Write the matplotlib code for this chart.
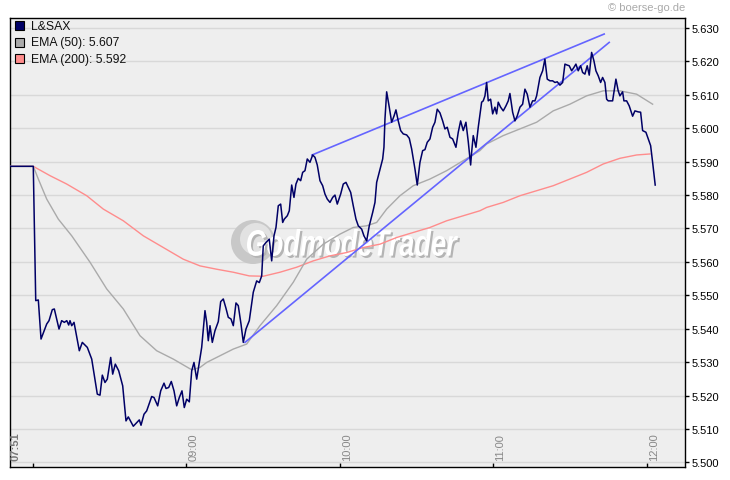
import matplotlib
matplotlib.use('Agg')
import matplotlib.pyplot as plt
from matplotlib.patches import Rectangle, Circle, PathPatch
from matplotlib.textpath import TextPath
from matplotlib.font_manager import FontProperties
from matplotlib.transforms import Affine2D, IdentityTransform

# minutes on the x axis: 0 = first tick ("07:51"), 60 = 09:00, ...
tick_pos = [0, 60, 120, 180, 240]
tick_lbl = ['07:51', '09:00', '10:00', '11:00', '12:00']
y_ticks = [5.500, 5.510, 5.520, 5.530, 5.540, 5.550, 5.560,
           5.570, 5.580, 5.590, 5.600, 5.610, 5.620, 5.630]

price_t = [-9.0, 0.1, 1.06, 2.07, 3.13, 5.35, 6.25, 7.54, 8.33, 10.16,
           11.2, 12.24, 13.2, 13.95, 14.46, 15.13, 16.03, 18.1, 19.27, 21.23,
           22.95, 25.13, 26.19, 27.09, 28.14, 29.04, 30.37, 31.15, 32.17, 33.5,
           35.06, 36.35, 37.25, 38.31, 39.21, 40.54, 41.55, 42.22, 43.39, 44.44,
           46.4, 47.3, 48.74, 49.92, 51.21, 51.99, 53.04, 54.06, 55.12, 56.17,
           57.19, 58.24, 59.14, 60.08, 61.1, 62.04, 62.93, 63.99, 65.0, 65.94,
           67.23, 67.9, 68.52, 69.19, 70.09, 71.14, 72.43, 73.37, 74.39, 75.44,
           76.34, 77.4, 78.3, 79.35, 80.25, 81.31, 82.21, 83.26, 84.55, 86.11,
           87.44, 88.46, 89.4, 90.02, 91.08, 92.37, 93.31, 94.21, 94.99, 95.89,
           96.82, 97.61, 98.23, 99.41, 100.19, 101.13, 102.02, 102.8, 103.7, 104.64,
           105.42, 106.32, 107.22, 108.28, 109.33, 110.23, 111.13, 112.19, 113.24, 114.14,
           115.04, 116.1, 117.15, 118.05, 118.95, 120.28, 121.3, 122.35, 123.25, 124.19,
           125.2, 126.26, 127.16, 128.49, 129.38, 130.44, 131.46, 132.79, 133.69, 134.35,
           135.37, 136.7, 137.2, 137.6, 138.26, 139.28, 140.21, 141.11, 141.89, 142.79,
           143.73, 144.75, 146.08, 147.1, 148.03, 149.32, 150.22, 151.28, 152.33, 153.23,
           154.13, 155.19, 156.24, 157.14, 158.04, 159.1, 160.15, 161.05, 161.95, 163.01,
           164.06, 165.35, 166.25, 167.18, 168.2, 169.25, 170.16, 171.09, 171.48, 172.11,
           173.17, 174.07, 175.39, 176.02, 176.69, 177.35, 177.98, 178.9, 179.7, 180.59,
           181.25, 181.88, 182.82, 183.84, 184.9, 185.8, 186.45, 187.51, 188.41, 189.31,
           190.37, 191.42, 192.32, 193.22, 194.28, 195.33, 196.23, 196.89, 198.18, 199.24,
           200.13, 201.04, 202.09, 203.15, 204.05, 204.95, 206.0, 207.06, 207.96, 208.86,
           209.64, 210.58, 211.47, 212.25, 213.15, 214.09, 214.87, 215.77, 216.67, 217.46,
           218.39, 219.29, 220.07, 220.97, 221.91, 222.69, 223.59, 224.26, 224.88, 225.82,
           226.6, 227.89, 228.79, 229.45, 230.51, 231.02, 232.07, 233.09, 234.42, 235.32,
           236.61, 237.55, 238.33, 239.62, 240.52, 241.46, 242.24, 243.25]
price_v = [5.5886, 5.5886, 5.5484, 5.5486, 5.5369, 5.5414, 5.5424, 5.5457, 5.5459, 5.5399,
           5.5424, 5.5419, 5.5424, 5.5411, 5.5424, 5.5409, 5.5419, 5.5334, 5.5359, 5.5344,
           5.5309, 5.5204, 5.5201, 5.5261, 5.5239, 5.5249, 5.5314, 5.5264, 5.5294, 5.5274,
           5.5229, 5.5124, 5.5136, 5.5121, 5.5108, 5.5119, 5.5127, 5.5111, 5.5144, 5.5154,
           5.5197, 5.5194, 5.5169, 5.5214, 5.5237, 5.5221, 5.5224, 5.5242, 5.5214, 5.5169,
           5.5194, 5.5214, 5.5164, 5.5189, 5.5181, 5.5274, 5.5299, 5.5249, 5.5299, 5.5344,
           5.5454, 5.5419, 5.5364, 5.5409, 5.5359, 5.5394, 5.5421, 5.5481, 5.5489, 5.5461,
           5.5434, 5.5429, 5.5409, 5.5477, 5.5469, 5.5414, 5.5359, 5.5399, 5.5424, 5.5509,
           5.5543, 5.5538, 5.5558, 5.5648, 5.5658, 5.5668, 5.5603, 5.5678, 5.5703, 5.5768,
           5.5773, 5.5718, 5.5728, 5.5738, 5.5753, 5.5830, 5.5793, 5.5833, 5.5850, 5.5843,
           5.5868, 5.5873, 5.5908, 5.5898, 5.5920, 5.5913, 5.5890, 5.5843, 5.5828, 5.5803,
           5.5788, 5.5778, 5.5793, 5.5800, 5.5773, 5.5803, 5.5833, 5.5838, 5.5823, 5.5808,
           5.5768, 5.5728, 5.5708, 5.5698, 5.5678, 5.5663, 5.5708, 5.5748, 5.5778, 5.5838,
           5.5868, 5.5908, 5.5943, 5.6028, 5.6109, 5.6063, 5.6018, 5.6036, 5.6055, 5.6022,
           5.5993, 5.5983, 5.5980, 5.5970, 5.5938, 5.5878, 5.5830, 5.5898, 5.5933, 5.5936,
           5.5958, 5.5968, 5.6003, 5.6018, 5.6057, 5.6046, 5.6022, 5.5998, 5.6003, 5.5973,
           5.5968, 5.5943, 5.5988, 5.6022, 5.5993, 5.6018, 5.5960, 5.5890, 5.5928, 5.5978,
           5.5943, 5.6003, 5.6078, 5.6082, 5.6097, 5.6137, 5.6082, 5.6087, 5.6043, 5.6063,
           5.6043, 5.6078, 5.6063, 5.6052, 5.6067, 5.6082, 5.6104, 5.6048, 5.6022, 5.6037,
           5.6063, 5.6072, 5.6117, 5.6102, 5.6063, 5.6082, 5.6082, 5.6097, 5.6152, 5.6172,
           5.6207, 5.6147, 5.6142, 5.6142, 5.6137, 5.6139, 5.6129, 5.6137, 5.6192, 5.6189,
           5.6187, 5.6172, 5.6182, 5.6192, 5.6172, 5.6187, 5.6167, 5.6162, 5.6187, 5.6159,
           5.6227, 5.6202, 5.6172, 5.6157, 5.6137, 5.6152, 5.6137, 5.6087, 5.6082, 5.6082,
           5.6082, 5.6147, 5.6112, 5.6097, 5.6109, 5.6082, 5.6082, 5.6067, 5.6036, 5.6052,
           5.6049, 5.6048, 5.5993, 5.5988, 5.5968, 5.5948, 5.5898, 5.5830]

ema50_t = [-9.0, 0.1, 2.07, 5.35, 9.89, 15.13, 22.28, 28.81, 35.3, 41.82,
           48.35, 54.84, 62.04, 65.28, 67.9, 73.1, 78.3, 83.53, 88.73, 95.26,
           101.75, 106.99, 113.48, 120.0, 125.2, 130.44, 134.35, 138.26, 143.46, 148.66,
           155.19, 161.71, 168.2, 174.72, 177.35, 183.84, 190.37, 196.89, 203.38, 209.91,
           216.44, 222.93, 229.45, 235.98, 242.24]
ema50_v = [5.5886, 5.5886, 5.5848, 5.5788, 5.5728, 5.5678, 5.5599, 5.5519, 5.5459, 5.5379,
           5.5334, 5.5309, 5.5277, 5.5284, 5.5299, 5.5319, 5.5339, 5.5354, 5.5409, 5.5469,
           5.5539, 5.5608, 5.5653, 5.5683, 5.5703, 5.5708, 5.5718, 5.5758, 5.5798, 5.5828,
           5.5848, 5.5873, 5.5903, 5.5933, 5.5953, 5.5978, 5.5998, 5.6018, 5.6052, 5.6072,
           5.6097, 5.6112, 5.6112, 5.6102, 5.6072]

ema200_t = [-9.0, 0.1, 6.65, 13.17, 20.99, 27.48, 35.3, 43.12, 50.93, 58.75,
            65.28, 71.81, 78.3, 84.55, 90.02, 96.55, 103.08, 109.57, 116.1, 122.62,
            129.11, 135.64, 142.17, 148.66, 155.19, 161.71, 168.2, 174.72, 177.35, 183.84,
            190.37, 196.89, 203.38, 209.91, 216.44, 222.93, 229.45, 235.98, 241.19]
ema200_v = [5.5886, 5.5886, 5.5858, 5.5833, 5.5798, 5.5758, 5.5723, 5.5678, 5.5643, 5.5608,
            5.5588, 5.5578, 5.5569, 5.5558, 5.5557, 5.5569, 5.5584, 5.5603, 5.5618, 5.5628,
            5.5643, 5.5653, 5.5673, 5.5688, 5.5703, 5.5723, 5.5738, 5.5753, 5.5763, 5.5778,
            5.5798, 5.5813, 5.5828, 5.5848, 5.5868, 5.5893, 5.5910, 5.5920, 5.5923]

# hand drawn trend channel
upper_t = [109.1, 223.3]
upper_v = [5.5920, 5.6282]
lower_t = [82.87, 225.27]
lower_v = [5.5359, 5.6257]

legend_names = ['L&SAX', 'EMA (50): 5.607', 'EMA (200): 5.592']
legend_cols = ['#000066', '#AAAAAA', '#FF8C8C']

W, H = 730, 481
fig = plt.figure(figsize=(W / 100, H / 100), dpi=100)
ax = fig.add_axes([10 / W, 13 / H, 675 / W, 449 / H])
ax.set_facecolor('#EEEEEE')

# watermark (behind the data)
ax.add_patch(Circle((253, H - 243), 22, transform=IdentityTransform(),
                    facecolor='#C8C8C8', edgecolor='none', zorder=1))
ax.add_patch(Circle((256, H - 240), 16, transform=IdentityTransform(),
                    facecolor='#E2E2E2', edgecolor='none', zorder=1))
fp = FontProperties(family='Liberation Sans', weight='bold', style='italic')
tp = TextPath((0, 0), 'GodmodeTrader', size=100, prop=fp)
bb = tp.get_extents()
sx, sy = 211 / bb.width, 27 / bb.height
for dx, dy, fc, z in [(2, -2, '#B4B4B4', 1.2), (0, 0, 'white', 1.3)]:
    tr = Affine2D().translate(-bb.x0, -bb.y0).scale(sx, sy).translate(247 + dx, H - 257 + dy)
    ax.add_patch(PathPatch(tp, transform=tr, facecolor=fc, edgecolor='none', zorder=z))

ax.plot(ema200_t, ema200_v, color='#FF8C8C', lw=1.0, zorder=3)
ax.plot(ema50_t, ema50_v, color='#AAAAAA', lw=1.0, zorder=3)
ax.plot(upper_t, upper_v, color='#6464FF', lw=1.2, zorder=4)
ax.plot(lower_t, lower_v, color='#6464FF', lw=1.2, zorder=4)
ax.plot(price_t, price_v, color='#000066', lw=1.1, zorder=5)

ax.set_xlim(-9.0, 254.9)
ax.set_ylim(5.4986, 5.6330)

ax.set_yticks(y_ticks)
ax.set_yticklabels(['%.3f' % v for v in y_ticks], fontfamily='Liberation Sans', fontsize=8)
ax.yaxis.tick_right()
ax.tick_params(axis='y', direction='out', length=3, width=1, pad=2, colors='black')
ax.grid(axis='y', color='#D8D8D8', lw=1)
ax.set_axisbelow(True)

ax.set_xticks(tick_pos)
ax.set_xticklabels([])
ax.tick_params(axis='x', direction='in', length=3, width=1, top=False)
for s in ax.spines.values():
    s.set_color('black')
    s.set_linewidth(1)

# x labels sit inside the plot, rotated
for p, lbl in zip(tick_pos, tick_lbl):
    if p == 0:
        ax.text(-7.0, 5.5006, lbl, rotation=90, ha='center', va='bottom', fontsize=8,
                fontfamily='Liberation Sans', fontweight='bold', color='#777777', zorder=6)
    else:
        ax.text(p + 2.8, 5.5006, lbl, rotation=90, ha='center', va='bottom', fontsize=8,
                fontfamily='Liberation Sans', color='#888888', zorder=6)

# legend drawn by hand
for i, (name, col) in enumerate(zip(legend_names, legend_cols)):
    yc = 26.5 + i * 16.5
    fig.add_artist(Rectangle((15 / W, 1 - (yc + 4.5) / H), 9 / W, 9 / H, transform=fig.transFigure,
                             facecolor=col, edgecolor='black', lw=0.8, zorder=7))
    fig.text(31 / W, 1 - yc / H, name, fontsize=8.8, fontfamily='Liberation Sans',
             color='#111111', va='center', ha='left', zorder=7)

fig.text(685 / W, 1 - 8 / H, '\u00a9 boerse-go.de', fontsize=8, fontfamily='Liberation Sans',
         color='#AAAAAA', ha='right', va='center')

fig.savefig('out.png', dpi=100, facecolor='white')
